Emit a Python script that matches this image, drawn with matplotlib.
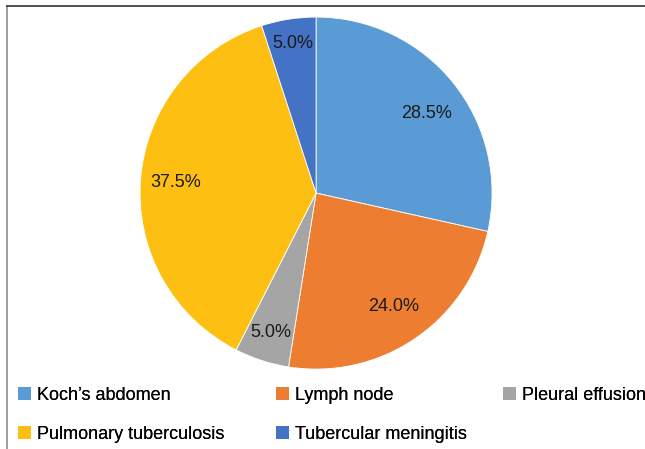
import numpy as np
import matplotlib.pyplot as plt
from matplotlib.lines import Line2D
from matplotlib.patches import Patch

plt.rcParams["font.family"] = ["Liberation Sans", "DejaVu Sans"]

categories = [
    "Koch\u2019s abdomen",
    "Lymph node",
    "Pleural effusion",
    "Pulmonary tuberculosis",
    "Tubercular meningitis",
]
shares = [28.5, 24.0, 5.0, 37.5, 5.0]
colors = ["#5B9BD5", "#ED7D31", "#A5A5A5", "#FDBF12", "#4472C4"]

# placement of each percentage label: distance from the centre (fraction of
# the radius) and a small turn away from the wedge's mid angle (degrees)
label_radius = [0.77, 0.78, 0.83, 0.80, 0.86]
label_turn = [-3.0, 0.0, 0.0, 0.0, 0.0]

# legend layout: which entries go in each column, and the column's left edge (px)
legend_columns = [[0, 3], [1, 4], [2]]
legend_column_x = [18, 276, 503]

FIG_W, FIG_H = 645, 449


def draw_pie(fig):
    ax = fig.add_axes([0.217, 0.178, 0.546, 0.784])
    wedges, _, pct_texts = ax.pie(
        shares,
        colors=colors,
        startangle=90,
        counterclock=False,
        autopct="%.1f%%",
        radius=1.0,
        wedgeprops={"edgecolor": "white", "linewidth": 0.6},
        textprops={"fontsize": 13, "color": "#1a1a1a"},
    )
    for wedge, text, r, turn in zip(wedges, pct_texts, label_radius, label_turn):
        mid = np.deg2rad((wedge.theta1 + wedge.theta2) / 2 + turn)
        text.set_position((r * np.cos(mid), r * np.sin(mid)))
    ax.set_xlim(-1.0, 1.0)
    ax.set_ylim(-1.0, 1.0)
    ax.set_aspect("equal")
    return ax


def draw_legend(fig):
    for idx, x in zip(legend_columns, legend_column_x):
        leg = fig.legend(
            [Patch(facecolor=colors[i], edgecolor="none") for i in idx],
            [categories[i] for i in idx],
            loc="upper left",
            bbox_to_anchor=(x / FIG_W, 1 - 387 / FIG_H),
            frameon=False,
            fontsize=13,
            handlelength=0.7,
            handleheight=0.7,
            handletextpad=0.35,
            labelspacing=1.2,
            borderpad=0.0,
            borderaxespad=0.0,
        )
        fig.add_artist(leg)


def draw_border(fig):
    fig.add_artist(Line2D([7 / FIG_W, 7 / FIG_W], [0, 1 - 6 / FIG_H],
                          transform=fig.transFigure, color="#8c8c8c", lw=1.2))
    fig.add_artist(Line2D([7 / FIG_W, 1], [1 - 6 / FIG_H, 1 - 6 / FIG_H],
                          transform=fig.transFigure, color="#333333", lw=1.2))


def main():
    fig = plt.figure(figsize=(FIG_W / 100, FIG_H / 100), dpi=100)
    draw_pie(fig)
    draw_legend(fig)
    draw_border(fig)
    fig.savefig("out.png", dpi=100, facecolor="white")


if __name__ == "__main__":
    main()
